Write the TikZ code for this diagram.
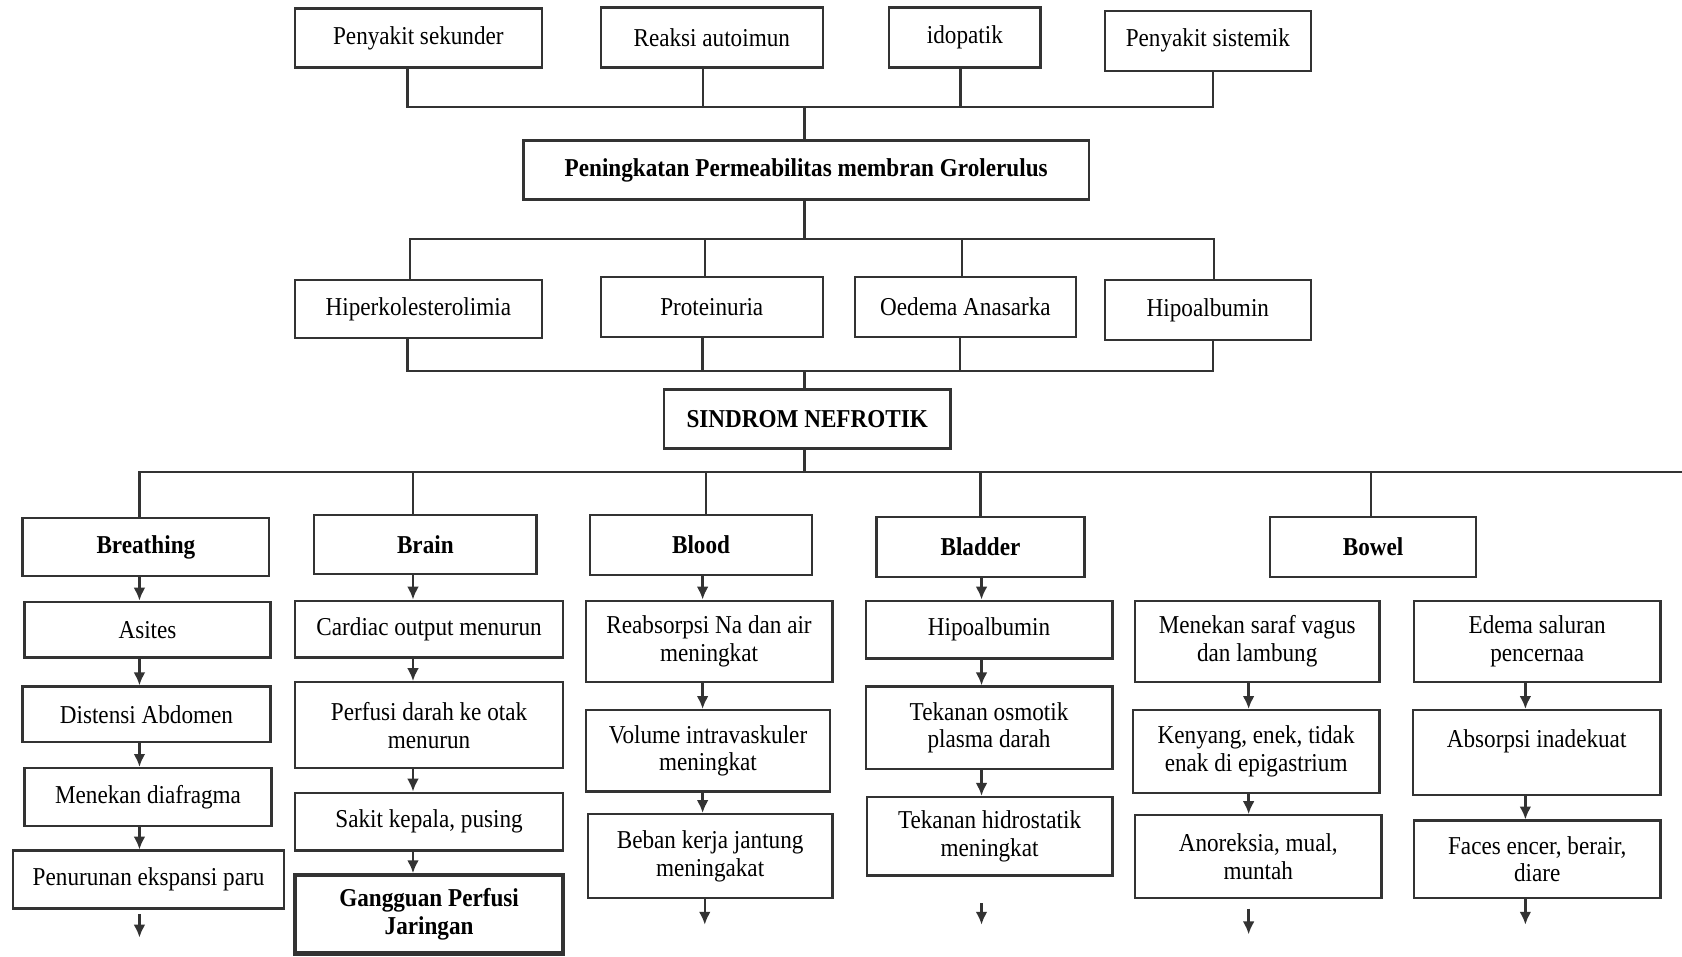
\documentclass[tikz,border=0pt]{standalone}
\usepackage{fontspec}
\setmainfont{Liberation Serif}[FakeStretch=0.9]
\usetikzlibrary{arrows.meta}

\tikzset{
  kotak/.style={draw=black!80, line width=1.1pt, rectangle, align=center, inner sep=2pt,
    font=\fontsize{12}{13}\selectfont},
  judul/.style={kotak, font=\fontsize{12}{13}\selectfont\bfseries},
  garis/.style={draw=black!80, line width=1.1pt},
  panah/.style={garis, ->},
}

\begin{document}
\begin{tikzpicture}[x=0.5pt, y=-0.5pt, >={Latex[length=6pt,width=5.5pt]}]

  \useasboundingbox (0,0) rectangle (1568,892);

  % ========== Penyebab ==========
  \node[kotak, minimum width=115pt, minimum height=27.5pt] (sekunder) at (390,35.5) {Penyakit sekunder};
  \node[kotak, minimum width=103.5pt, minimum height=28pt] (autoimun) at (663.5,35) {Reaksi autoimun};
  \node[kotak, minimum width=70.5pt, minimum height=28pt] (idopatik) at (899.5,35) {idopatik};
  \node[kotak, minimum width=96pt, minimum height=28pt] (sistemik) at (1126,38) {Penyakit sistemik};

  \node[judul, minimum width=263.5pt, minimum height=27.5pt] (permeabilitas) at (751.5,158.5) {Peningkatan Permeabilitas membran Grolerulus};

  % ========== Akibat ==========
  \node[kotak, minimum width=115pt, minimum height=27pt] (hiperkol) at (390,288) {Hiperkolesterolimia};
  \node[kotak, minimum width=103.5pt, minimum height=28pt] (proteinuria) at (663.5,286) {Proteinuria};
  \node[kotak, minimum width=103pt, minimum height=28pt] (oedema) at (900,286) {Oedema Anasarka};
  \node[kotak, minimum width=96pt, minimum height=28pt] (hipoalbumin) at (1126,289) {Hipoalbumin};

  \node[judul, minimum width=133.5pt, minimum height=27.5pt] (sindrom) at (752.5,390.5) {SINDROM NEFROTIK};

  % ========== 5B ==========
  \node[judul, minimum width=115pt, minimum height=27pt] (breathing) at (136,510) {Breathing};
  \node[judul, minimum width=103.5pt, minimum height=27.5pt] (brain) at (396.5,507.5) {Brain};
  \node[judul, minimum width=103.5pt, minimum height=28pt] (blood) at (653.5,508) {Blood};
  \node[judul, minimum width=97pt, minimum height=28pt] (bladder) at (914,510) {Bladder};
  \node[judul, minimum width=96pt, minimum height=28pt] (bowel) at (1280,510) {Bowel};

  % Breathing
  \node[kotak, minimum width=114.5pt, minimum height=26pt] (asites) at (137.5,587) {Asites};
  \node[kotak, minimum width=115.5pt, minimum height=26pt] (distensi) at (136.5,666) {Distensi Abdomen};
  \node[kotak, minimum width=115pt, minimum height=27pt] (diafragma) at (138,743) {Menekan diafragma};
  \node[kotak, minimum width=126.5pt, minimum height=27pt] (paru) at (138.5,820) {Penurunan ekspansi paru};

  % Brain
  \node[kotak, minimum width=125pt, minimum height=26.5pt] (cardiac) at (400,586.5) {Cardiac output menurun};
  \node[kotak, minimum width=125pt, minimum height=40pt] (perfusi) at (400,676) {Perfusi darah ke otak\\menurun};
  \node[kotak, minimum width=125pt, minimum height=27pt] (sakit) at (400,766) {Sakit kepala, pusing};
  \node[judul, line width=2pt, minimum width=125pt, minimum height=36.5pt] (gangguan) at (400,852.5) {Gangguan Perfusi\\Jaringan};

  % Blood
  \node[kotak, minimum width=115pt, minimum height=38pt] (reabsorpsi) at (661,598) {Reabsorpsi Na dan air\\meningkat};
  \node[kotak, minimum width=114pt, minimum height=38pt] (volume) at (660,700) {Volume intravaskuler\\meningkat};
  \node[kotak, minimum width=114pt, minimum height=39pt] (beban) at (662,798) {Beban kerja jantung\\meningakat};

  % Bladder
  \node[kotak, minimum width=115pt, minimum height=27pt] (hipoalbdua) at (922,587) {Hipoalbumin};
  \node[kotak, minimum width=115pt, minimum height=38.5pt] (osmotik) at (922,678.5) {Tekanan osmotik\\plasma darah};
  \node[kotak, minimum width=114.5pt, minimum height=36.5pt] (hidrostatik) at (922.5,779.5) {Tekanan hidrostatik\\meningkat};

  % Bowel
  \node[kotak, minimum width=114pt, minimum height=38pt] (vagus) at (1172,598) {Menekan saraf vagus\\dan lambung};
  \node[kotak, minimum width=115pt, minimum height=38.5pt] (kenyang) at (1171,700.5) {Kenyang, enek, tidak\\enak di epigastrium};
  \node[kotak, minimum width=115pt, minimum height=38.5pt] (anoreksia) at (1173,798.5) {Anoreksia, mual,\\muntah};
  \node[kotak, minimum width=115pt, minimum height=38pt] (edema) at (1433,598) {Edema saluran\\pencernaa};
  \node[kotak, minimum width=115.5pt, minimum height=39.5pt] (absorpsi) at (1432.5,701.5) {Absorpsi inadekuat\\\mbox{}};
  \node[kotak, minimum width=115pt, minimum height=36pt] (faces) at (1433,801) {Faces encer, berair,\\diare};

  % ========== Garis ==========
  \coordinate (busA) at (750,100);
  \coordinate (busB) at (750,223);
  \coordinate (busC) at (750,346);
  \coordinate (busD) at (750,440);
  \coordinate (busE) at (1568,440);

  \draw[garis] ([xshift=-5pt]sekunder.south) |- (busA) -| ([xshift=2.5pt]sistemik.south);
  \draw[garis] ([xshift=-4pt]autoimun.south) -- ([xshift=-4pt]autoimun.south |- busA);
  \draw[garis] ([xshift=-2pt]idopatik.south) -- ([xshift=-2pt]idopatik.south |- busA);
  \draw[garis] (busA) -- (busA |- permeabilitas.north);

  \draw[garis] (busB |- permeabilitas.south) -- (busB);
  \draw[garis] ([xshift=-4pt]hiperkol.north) |- (busB) -| ([xshift=3pt]hipoalbumin.north);
  \draw[garis] ([xshift=-3.25pt]proteinuria.north) -- ([xshift=-3.25pt]proteinuria.north |- busB);
  \draw[garis] ([xshift=-1.5pt]oedema.north) -- ([xshift=-1.5pt]oedema.north |- busB);

  \draw[garis] ([xshift=-5pt]hiperkol.south) |- (busC) -| ([xshift=2.5pt]hipoalbumin.south);
  \draw[garis] ([xshift=-4.25pt]proteinuria.south) -- ([xshift=-4.25pt]proteinuria.south |- busC);
  \draw[garis] ([xshift=-2.5pt]oedema.south) -- ([xshift=-2.5pt]oedema.south |- busC);
  \draw[garis] (busC) -- (busC |- sindrom.north);

  \draw[garis] (busD |- sindrom.south) -- (busD);
  \draw[garis] ([xshift=-3pt]breathing.north) |- (busE);
  \draw[garis] ([xshift=-5.75pt]brain.north) -- ([xshift=-5.75pt]brain.north |- busD);
  \draw[garis] ([xshift=2.25pt]blood.north) -- ([xshift=2.25pt]blood.north |- busD);
  \draw[garis] (bladder.north) -- (bladder.north |- busD);
  \draw[garis] ([xshift=-1pt]bowel.north) -- ([xshift=-1pt]bowel.north |- busD);

  % ========== Panah ==========
  \coordinate (kolA) at (130,0);
  \coordinate (kolB) at (385,0);
  \coordinate (kolC) at (655,0);
  \coordinate (kolD) at (915,0);
  \coordinate (kolE) at (1164,0);
  \coordinate (kolF) at (1422,0);

  \draw[panah] (breathing.south -| kolA) -- (asites.north -| kolA);
  \draw[panah] (asites.south -| kolA) -- (distensi.north -| kolA);
  \draw[panah] (distensi.south -| kolA) -- (diafragma.north -| kolA);
  \draw[panah] (diafragma.south -| kolA) -- (paru.north -| kolA);
  \coordinate (ujungA) at (130,874);
  \draw[panah] ([yshift=-2pt]paru.south -| kolA) -- (ujungA);

  \draw[panah] (brain.south -| kolB) -- (cardiac.north -| kolB);
  \draw[panah] (cardiac.south -| kolB) -- (perfusi.north -| kolB);
  \draw[panah] (perfusi.south -| kolB) -- (sakit.north -| kolB);
  \draw[panah] (sakit.south -| kolB) -- (gangguan.north -| kolB);

  \draw[panah] (blood.south -| kolC) -- (reabsorpsi.north -| kolC);
  \draw[panah] (reabsorpsi.south -| kolC) -- (volume.north -| kolC);
  \draw[panah] (volume.south -| kolC) -- (beban.north -| kolC);
  \coordinate (ujungC) at (657,862);
  \draw[panah] ([xshift=1pt]beban.south -| kolC) -- (ujungC);

  \draw[panah] (bladder.south -| kolD) -- (hipoalbdua.north -| kolD);
  \draw[panah] (hipoalbdua.south -| kolD) -- (osmotik.north -| kolD);
  \draw[panah] (osmotik.south -| kolD) -- (hidrostatik.north -| kolD);
  \coordinate (awalD) at (915,842);
  \coordinate (ujungD) at (915,862);
  \draw[panah] (awalD) -- (ujungD);

  \draw[panah] (vagus.south -| kolE) -- (kenyang.north -| kolE);
  \draw[panah] (kenyang.south -| kolE) -- (anoreksia.north -| kolE);
  \coordinate (awalE) at (1164,847);
  \coordinate (ujungE) at (1164,871);
  \draw[panah] (awalE) -- (ujungE);

  \draw[panah] (edema.south -| kolF) -- (absorpsi.north -| kolF);
  \draw[panah] (absorpsi.south -| kolF) -- (faces.north -| kolF);
  \coordinate (ujungF) at (1422,862);
  \draw[panah] (faces.south -| kolF) -- (ujungF);

\end{tikzpicture}
\end{document}
